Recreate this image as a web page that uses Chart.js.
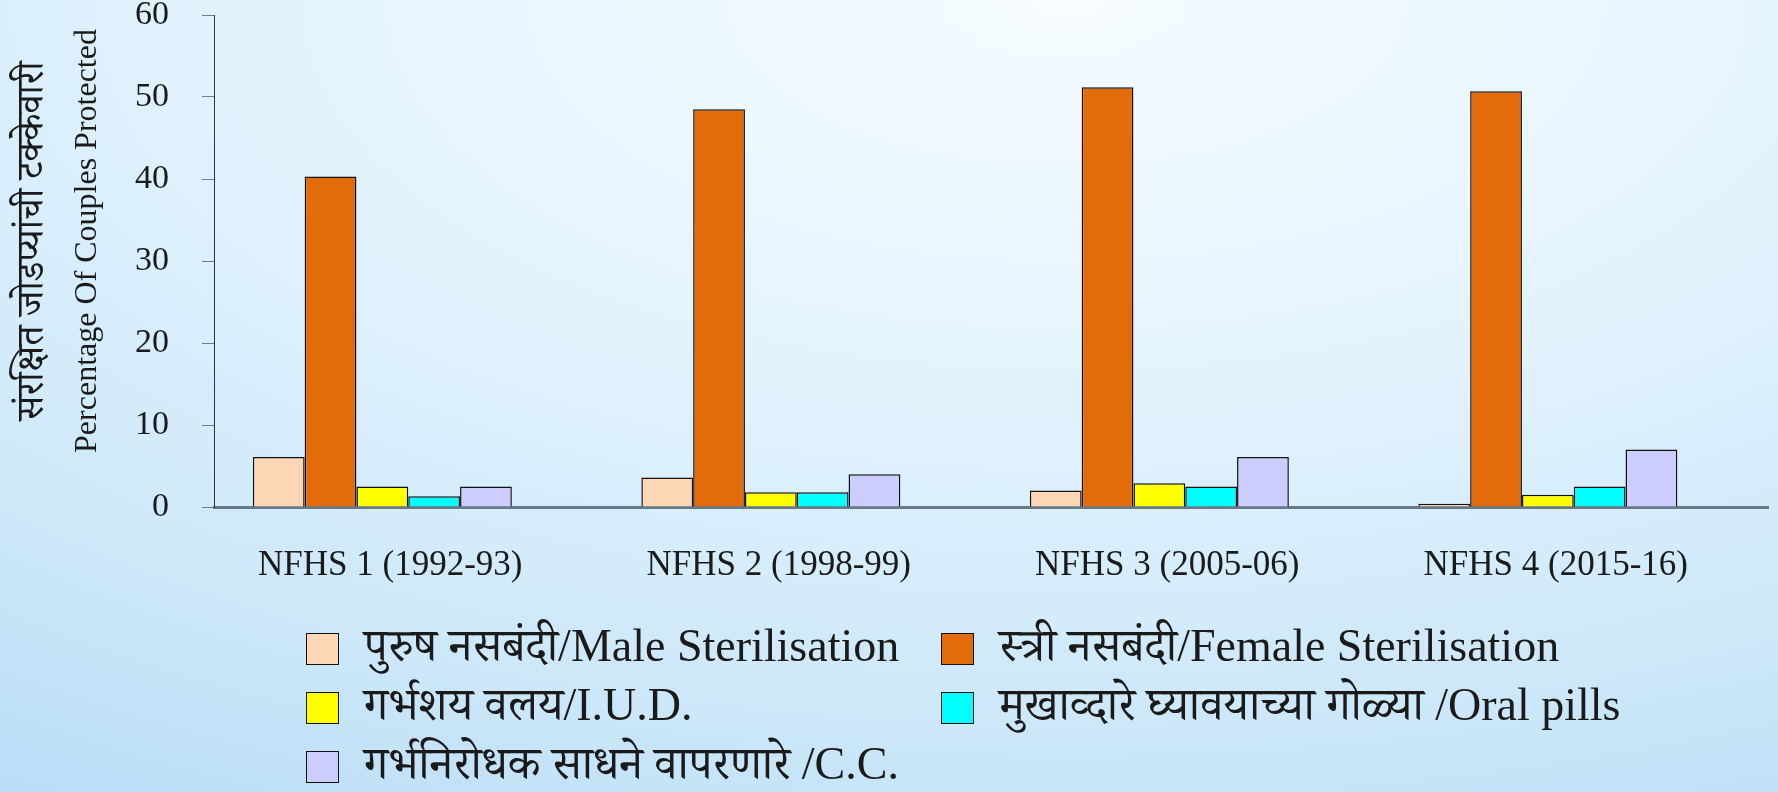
<!DOCTYPE html>
<html>
<head>
<meta charset="utf-8">
<script src="https://cdn.jsdelivr.net/npm/chart.js@4.4.1/dist/chart.umd.min.js"></script>
<style>
    html, body { margin: 0; padding: 0; }
    body {
        width: 1778px; height: 792px; overflow: hidden; position: relative;
        background: radial-gradient(ellipse 115% 125% at 60% 0%, #f6fcff 0%, #e2f3fd 40%, #cbe7f9 75%, #b6daf4 100%);
        font-family: "Liberation Serif", "Noto Serif Devanagari", "Noto Sans Devanagari", "Lohit Devanagari", serif;
    }
    #wrap { position: absolute; left: 0; top: 0; width: 1778px; height: 792px; }
    #legend {
        position: absolute; left: 306px; top: 610px;
        display: grid; grid-template-columns: 635px auto; grid-auto-rows: 59px;
        color: #1a1a1a; font-size: 46px;
    }
    .item { display: flex; align-items: flex-end; white-space: nowrap; }
    .swatch { width: 31px; height: 30px; border: 1.5px solid #111; margin-right: 25px; flex: none; margin-bottom: 4px; }
    .label { line-height: 46px; }
</style>
</head>
<body>
<div id="wrap"><canvas id="chart"></canvas></div>
<div id="legend"></div>
<script>
const surveys = ["NFHS 1 (1992-93)", "NFHS 2 (1998-99)", "NFHS 3 (2005-06)", "NFHS 4 (2015-16)"];
const maleSterilisation = [6.1, 3.6, 2.0, 0.4];
const femaleSterilisation = [40.3, 48.5, 51.2, 50.7];
const iud = [2.5, 1.8, 2.9, 1.5];
const oralPills = [1.3, 1.8, 2.5, 2.5];
const condomUsers = [2.5, 4.0, 6.1, 7.0];
const yTicks = [0, 10, 20, 30, 40, 50, 60];
const yTitleMr = "संरक्षित जोडप्यांची टक्केवारी";
const yTitleEn = "Percentage Of Couples Protected";

const serif = '"Liberation Serif", "Noto Serif Devanagari", "Noto Sans Devanagari", serif';

// legend is laid out as a two-column grid, built from the chart's own datasets
const htmlLegend = {
    id: "htmlLegend",
    afterUpdate(chart) {
        const box = document.getElementById("legend");
        box.innerHTML = "";
        Chart.defaults.plugins.legend.labels.generateLabels(chart)
            .filter(item => item.text)
            .forEach(item => {
                const el = document.createElement("div");
                el.className = "item";
                el.innerHTML = `<span class="swatch" style="background:${item.fillStyle}"></span><span class="label">${item.text}</span>`;
                box.appendChild(el);
            });
    }
};

// two-line y title, each line in its own size
const yTitles = {
    id: "yTitles",
    afterDraw(chart) {
        const ctx = chart.ctx;
        ctx.save();
        ctx.fillStyle = "#1a1a1a";
        ctx.textAlign = "center";
        ctx.textBaseline = "middle";
        ctx.translate(0, 241);
        ctx.rotate(-Math.PI / 2);
        ctx.font = "38px " + serif;
        ctx.fillText(yTitleMr, 0, 33);
        ctx.font = "32px " + serif;
        ctx.fillText(yTitleEn, 0, 88);
        ctx.restore();
    }
};

function bars(label, data, color) {
    return { label, data, backgroundColor: color, borderColor: "#111", borderWidth: 1.5 };
}

new Chart(document.getElementById("chart"), {
    type: "bar",
    data: {
        labels: surveys,
        datasets: [
            bars("पुरुष नसबंदी/Male Sterilisation", maleSterilisation, "#fdd6b5"),
            bars("स्त्री नसबंदी/Female Sterilisation", femaleSterilisation, "#e36c0a"),
            bars("गर्भशय वलय/I.U.D.", iud, "#ffff00"),
            bars("मुखाव्दारे घ्यावयाच्या गोळ्या /Oral pills", oralPills, "#00ffff"),
            bars("गर्भनिरोधक साधने वापरणारे /C.C.", condomUsers, "#ccccff"),
            // empty slot kept in each group, as in the original workbook
            { label: "", data: [null, null, null, null] }
        ]
    },
    options: {
        responsive: true,
        maintainAspectRatio: false,
        animation: false,
        layout: { padding: { top: 15, right: 10, left: 0, bottom: 0 } },
        datasets: { bar: { categoryPercentage: 0.8, barPercentage: 1 } },
        plugins: { legend: { display: false }, tooltip: { enabled: false } },
        scales: {
            x: {
                grid: { display: true, drawOnChartArea: false, drawTicks: false },
                border: { color: "#68798a", width: 3 },
                ticks: { color: "#1a1a1a", padding: 38, labelOffset: -18, font: { family: serif, size: 35 } },
                afterFit(scale) { scale.height = 285; }
            },
            y: {
                min: 0, max: 60,
                afterBuildTicks(scale) { scale.ticks = yTicks.map(v => ({ value: v })); },
                grid: { display: true, drawOnChartArea: false, tickLength: 12, color: "#6f7c88" },
                border: { color: "#333", width: 1 },
                ticks: { color: "#1a1a1a", padding: 33, font: { family: serif, size: 34 } },
                afterFit(scale) {
                    scale.width = 214;
                    scale.paddingTop = 0;
                    scale.paddingBottom = 0;
                }
            }
        }
    },
    plugins: [htmlLegend, yTitles]
});
</script>
</body>
</html>
